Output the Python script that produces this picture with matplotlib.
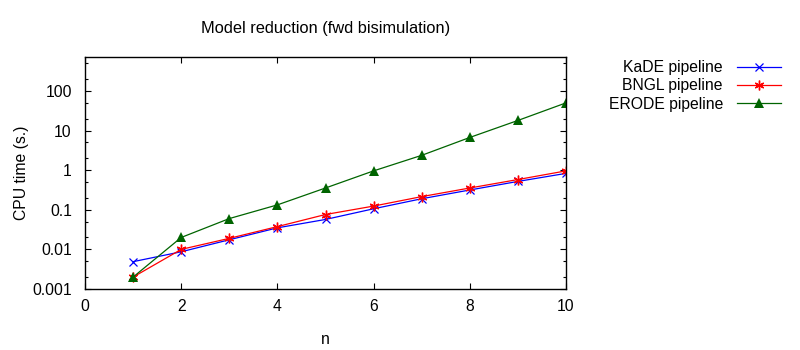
import matplotlib
matplotlib.use("Agg")
import matplotlib.pyplot as plt
from matplotlib.ticker import LogLocator, NullFormatter

plt.rcParams['font.family'] = ['Liberation Sans', 'DejaVu Sans']

n = [1, 2, 3, 4, 5, 6, 7, 8, 9, 10]
kade = [0.0049, 0.0087, 0.0175, 0.035, 0.057, 0.106, 0.19, 0.316, 0.52, 0.83]
bngl = [0.002, 0.01, 0.019, 0.0376, 0.076, 0.124, 0.215, 0.355, 0.58, 0.96]
erode = [0.002, 0.02, 0.06, 0.133, 0.355, 0.96, 2.37, 6.7, 18.0, 50.0]

labels = ["KaDE pipeline", "BNGL pipeline", "ERODE pipeline"]
yticks = [0.001, 0.01, 0.1, 1, 10, 100]
ytick_labels = ["0.001", "0.01", "0.1", "1", "10", "100"]
xticks = [0, 2, 4, 6, 8, 10]

fs = 11.3
fig = plt.figure(figsize=(8, 3.5), dpi=100)
ax = fig.add_axes([85/800, 1 - 289/350, (566-85)/800, (289-57)/350])

lw = 0.9
ax.plot(n, kade, color='#0000ff', lw=lw, marker='x', ms=6, mew=0.9, label=labels[0])
ax.plot(n, bngl, color='#ff0000', lw=lw, marker=(6, 2, 0), ms=7, mew=1.0, label=labels[1])
ax.plot(n, erode, color='#006400', lw=lw, marker='^', ms=7, mew=0, label=labels[2])

ax.set_yscale('log')
ax.set_xlim(0, 10)
ax.set_ylim(0.001, 720)
ax.set_yticks(yticks)
ax.set_yticklabels(ytick_labels)
ax.yaxis.set_minor_locator(LogLocator(base=10, subs=(2.0, 5.0)))
ax.yaxis.set_minor_formatter(NullFormatter())
ax.set_xticks(xticks)

for s in ax.spines.values():
    s.set_linewidth(1.0)
ax.tick_params(axis='y', which='major', pad=9.5)
ax.tick_params(axis='x', which='major', pad=7)
ax.tick_params(which='major', direction='in', length=4, width=0.8, top=True, right=True, labelsize=fs, colors='black')
ax.tick_params(which='minor', direction='in', length=2, width=0.8, top=True, right=True)

ax.set_xlabel('n', fontsize=fs, labelpad=13)
ax.set_ylabel('CPU time (s.)', fontsize=fs, labelpad=2)
ax.set_title('Model reduction (fwd bisimulation)', fontsize=11.8, pad=17)

leg = ax.legend(loc='upper right', bbox_to_anchor=(781/800, 1 - 60/350), bbox_transform=fig.transFigure,
                frameon=False, markerfirst=False, fontsize=fs, handlelength=2.8,
                labelspacing=0.22, handletextpad=0.9, borderaxespad=0, borderpad=0)
for t in leg.get_texts():
    t.set_ha('right')

fig.savefig('out.png', dpi=100)
